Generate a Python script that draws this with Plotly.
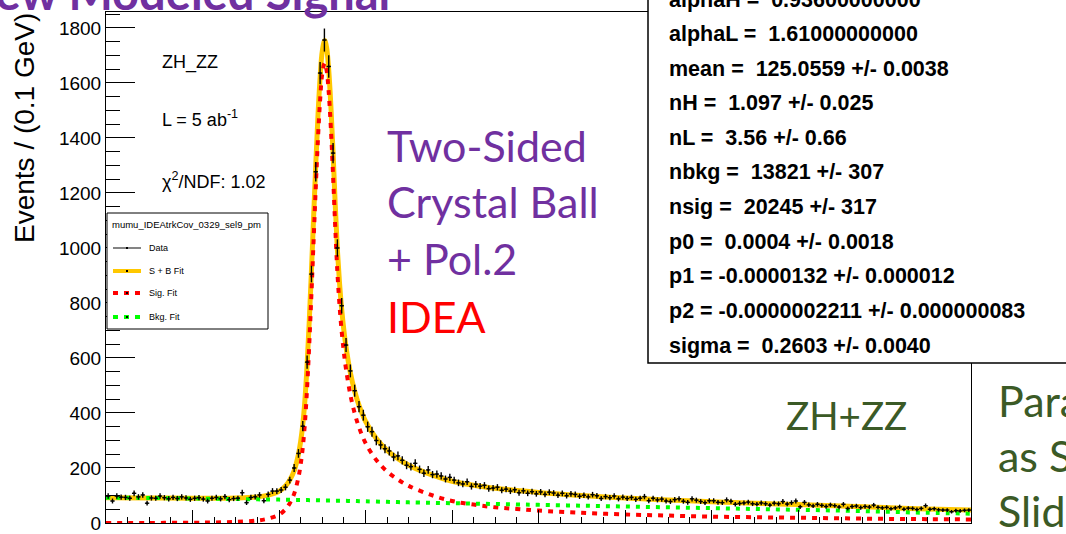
import numpy as np
import plotly.graph_objects as go

# ---------------- data (events per 0.1 GeV bin, 120 - 140 GeV) ----------------
bin_low, bin_high, bin_width = 120.0, 140.0, 0.1
data_counts = [
    98, 80, 98, 94, 93, 90, 108, 95, 102, 72,
    91, 90, 98, 92, 88, 93, 89, 95, 91, 86,
    90, 92, 87, 80, 90, 93, 88, 96, 85, 89,
    90, 110, 74, 93, 95, 102, 81, 104, 116, 116,
    120, 130, 156, 200, 253, 352, 585, 905, 1277, 1636,
    1756, 1660, 1345, 1000, 790, 647, 553, 481, 423, 392,
    350, 332, 300, 284, 270, 262, 240, 244, 228, 210,
    205, 217, 195, 181, 193, 176, 178, 171, 160, 166,
    156, 146, 142, 150, 133, 141, 134, 137, 125, 127,
    130, 119, 123, 116, 121, 110, 117, 108, 114, 106,
    113, 104, 112, 109, 101, 108, 99, 106, 104, 97,
    101, 95, 103, 99, 89, 96, 92, 98, 88, 94,
    89, 93, 86, 90, 96, 81, 90, 84, 87, 80,
    78, 85, 88, 79, 75, 88, 83, 78, 74, 81,
    81, 75, 74, 84, 79, 68, 71, 73, 76, 70,
    68, 73, 70, 65, 72, 70, 78, 69, 74, 80,
    59, 75, 66, 62, 68, 64, 60, 66, 63, 58,
    68, 53, 60, 62, 56, 60, 58, 65, 57, 55,
    57, 52, 55, 59, 50, 54, 53, 49, 53, 63,
    50, 52, 48, 47, 47, 41, 45, 44, 46, 47,
]

# ---------------- fitted curves ----------------
curve_mass = [120, 121, 122, 122.5, 123, 123.5, 123.75, 124, 124.15, 124.25,
              124.35, 124.45, 124.5, 124.55, 124.6, 124.65, 124.7, 124.75, 124.8, 124.85,
              124.9, 124.95, 125.0, 125.056, 125.1, 125.15, 125.2, 125.25, 125.3, 125.35,
              125.4, 125.45, 125.5, 125.55, 125.65, 125.75, 125.85, 126.0, 126.25, 126.5,
              126.75, 127.0, 127.5, 128.0, 128.5, 129.0, 129.5, 130.0, 131.0, 132.0,
              133.0, 134.0, 135.0, 136.0, 137.0, 138.0, 139.0, 140.0]
sig_fit = [0, 0.3, 1, 2, 4, 9, 16, 30, 50, 72,
           106, 166, 212, 275, 365, 492, 652, 834, 1028, 1220,
           1395, 1536, 1633, 1672, 1647, 1565, 1433, 1265, 1078, 912,
           790, 695, 620, 559, 466, 399, 348, 291, 229, 187,
           158, 135, 103, 80, 67, 57, 51, 45, 37, 31,
           27, 23, 21, 19, 17, 15, 14, 13]
bkg_fit = [92, 91, 89, 88, 87, 86, 85.5, 85, 84.5, 84.5,
           84, 84, 84, 83.5, 83.5, 83.5, 83, 83, 83, 82.5,
           82.5, 82.5, 82, 82, 82, 81.5, 81.5, 81.5, 81, 81,
           81, 81, 80.5, 80.5, 80, 80, 79.5, 79, 78, 77,
           76, 75, 73.5, 72, 70.5, 69, 67.5, 66, 63, 60,
           57, 54, 51, 48, 45, 41, 37, 34]
total_fit = [92, 91.3, 90, 90, 91, 95, 101.5, 115, 134.5, 156.5,
             190, 250, 296, 358.5, 448.5, 575.5, 735, 917, 1111, 1302.5,
             1477.5, 1618.5, 1715, 1754, 1729, 1646.5, 1514.5, 1346.5, 1159, 993,
             871, 776, 700.5, 639.5, 546, 479, 427.5, 370, 307, 264,
             234, 210, 176.5, 152, 137.5, 126, 118.5, 111, 100, 91,
             84, 77, 72, 67, 62, 56, 51, 47]

param_lines = [
    "alphaH =  0.93600000000",
    "alphaL =  1.61000000000",
    "mean =  125.0559 +/- 0.0038",
    "nH =  1.097 +/- 0.025",
    "nL =  3.56 +/- 0.66",
    "nbkg =  13821 +/- 307",
    "nsig =  20245 +/- 317",
    "p0 =  0.0004 +/- 0.0018",
    "p1 = -0.0000132 +/- 0.000012",
    "p2 = -0.0000002211 +/- 0.000000083",
    "sigma =  0.2603 +/- 0.0040",
]

# ---------------- geometry helpers (pixel -> paper) ----------------
W, H = 1066, 534
L, R, T, B = 106, 971, 12, 523


def px(x):
    return (x - L) / (R - L)


def py(y):
    return (B - y) / (B - T)


centers = bin_low + bin_width * (np.arange(len(data_counts)) + 0.5)
counts = np.array(data_counts, dtype=float)

ROOTFONT = "Liberation Sans, Arial, Helvetica, sans-serif"
SLIDEFONT = "Lato, Open Sans, sans-serif"
YELLOW = "#FFC800"

fig = go.Figure()
fig.add_trace(go.Scatter(x=curve_mass, y=total_fit, mode="lines", line_shape="spline",
                         line=dict(color=YELLOW, width=5), name="S + B Fit", hoverinfo="skip"))
fig.add_trace(go.Scatter(x=curve_mass, y=sig_fit, mode="lines", line_shape="spline",
                         line=dict(color="#FF0000", width=4, dash="5px,6px"), name="Sig. Fit"))
fig.add_trace(go.Scatter(x=curve_mass, y=bkg_fit, mode="lines", line_shape="spline",
                         line=dict(color="#00FF00", width=4, dash="4px,6px"), name="Bkg. Fit"))
fig.add_trace(go.Scatter(x=centers, y=counts, mode="markers", name="Data",
                         marker=dict(color="black", size=2),
                         error_y=dict(type="data", array=np.sqrt(counts), color="black",
                                      thickness=1.4, width=0),
                         error_x=dict(type="constant", value=bin_width / 2, color="black",
                                      thickness=1.4, width=0)))

shapes = []
annotations = []

# ROOT legend box
shapes.append(dict(type="rect", xref="paper", yref="paper", x0=px(107), x1=px(268),
                   y0=py(329), y1=py(213), line=dict(color="black", width=1),
                   fillcolor="white", layer="above"))
annotations.append(dict(xref="paper", yref="paper", x=px(110), y=py(224), xanchor="left",
                        yanchor="middle", text="mumu_IDEAtrkCov_0329_sel9_pm",
                        showarrow=False, font=dict(family=ROOTFONT, size=9.5, color="black")))
leg_entries = [("Data", 248), ("S + B Fit", 271), ("Sig. Fit", 293), ("Bkg. Fit", 317)]
for label, yy in leg_entries:
    annotations.append(dict(xref="paper", yref="paper", x=px(147), y=py(yy), xanchor="left",
                            yanchor="middle", text=label, showarrow=False,
                            font=dict(family=ROOTFONT, size=9, color="black")))
shapes.append(dict(type="line", xref="paper", yref="paper", x0=px(113), x1=px(141),
                   y0=py(248), y1=py(248), line=dict(color="#333333", width=1.2), layer="above"))
shapes.append(dict(type="line", xref="paper", yref="paper", x0=px(113), x1=px(141),
                   y0=py(271), y1=py(271), line=dict(color=YELLOW, width=4), layer="above"))
shapes.append(dict(type="line", xref="paper", yref="paper", x0=px(113), x1=px(141),
                   y0=py(293), y1=py(293), line=dict(color="#FF0000", width=4, dash="5px,6px"),
                   layer="above"))
shapes.append(dict(type="line", xref="paper", yref="paper", x0=px(113), x1=px(141),
                   y0=py(317), y1=py(317), line=dict(color="#00FF00", width=4, dash="5px,6px"),
                   layer="above"))
for yy in [248, 271, 293, 317]:
    shapes.append(dict(type="rect", xref="paper", yref="paper", x0=px(126), x1=px(128),
                       y0=py(yy + 1), y1=py(yy - 1), line=dict(width=0), fillcolor="black",
                       layer="above"))

# parameter box
shapes.append(dict(type="rect", xref="paper", yref="paper", x0=px(648), x1=px(1080),
                   y0=py(363), y1=py(-20), line=dict(color="black", width=1.5),
                   fillcolor="white", layer="above"))
for i, txt in enumerate(param_lines):
    annotations.append(dict(xref="paper", yref="paper", x=px(667), y=py(-0.5 + 34.6 * i),
                            xanchor="left", yanchor="middle", text="<b>%s</b>" % txt,
                            showarrow=False, font=dict(family=ROOTFONT, size=21.5, color="black")))

# ROOT text labels
annotations += [
    dict(xref="paper", yref="paper", x=px(160), y=py(62), xanchor="left", yanchor="middle",
         text="ZH_ZZ", showarrow=False, font=dict(family=ROOTFONT, size=18, color="black")),
    dict(xref="paper", yref="paper", x=px(160), y=py(118), xanchor="left", yanchor="middle",
         text="L = 5 ab<sup>-1</sup>", showarrow=False,
         font=dict(family=ROOTFONT, size=18, color="black")),
    dict(xref="paper", yref="paper", x=px(160), y=py(180), xanchor="left", yanchor="middle",
         text="χ<sup>2</sup>/NDF: 1.02", showarrow=False,
         font=dict(family=ROOTFONT, size=18, color="black")),
    dict(xref="paper", yref="paper", x=px(24), y=py(128), xanchor="center", yanchor="middle",
         text="Events / (0.1 GeV)", textangle=-90, showarrow=False,
         font=dict(family=ROOTFONT, size=28, color="black")),
]

# slide overlay texts
PURPLE = "#7030A0"
DKGREEN = "#3B5A26"
for txt, yy, col in [("Two-Sided", 145, PURPLE), ("Crystal Ball", 201, PURPLE),
                     ("+ Pol.2", 258, PURPLE), ("IDEA", 316, "#FF0000")]:
    annotations.append(dict(xref="paper", yref="paper", x=px(385), y=py(yy), xanchor="left",
                            yanchor="middle", text=txt, showarrow=False,
                            font=dict(family=SLIDEFONT, size=43, color=col)))
annotations.append(dict(xref="paper", yref="paper", x=px(784), y=py(415), xanchor="left",
                        yanchor="middle", text="ZH+ZZ", showarrow=False,
                        font=dict(family=SLIDEFONT, size=38.5, color=DKGREEN)))
for txt, yy in [("Parameters", 400), ("as Same", 455), ("Slide", 510)]:
    annotations.append(dict(xref="paper", yref="paper", x=px(996), y=py(yy), xanchor="left",
                            yanchor="middle", text=txt, showarrow=False,
                            font=dict(family=SLIDEFONT, size=43, color=DKGREEN)))
annotations.append(dict(xref="paper", yref="paper", x=px(392), y=py(-8), xanchor="right",
                        yanchor="middle", text="<b>New Modeled Signal</b>", showarrow=False,
                        font=dict(family=SLIDEFONT, size=47, color=PURPLE)))

fig.update_layout(
    width=W, height=H,
    margin=dict(l=L, r=W - R, t=T, b=H - B, pad=0, autoexpand=False),
    paper_bgcolor="white", plot_bgcolor="white",
    showlegend=False,
    shapes=shapes, annotations=annotations,
    xaxis=dict(range=[bin_low, bin_high], tick0=120, dtick=2, ticks="inside", ticklen=13,
               tickcolor="black", tickwidth=1, showline=True, linecolor="black", linewidth=1,
               mirror=True, showgrid=False, zeroline=False, automargin=False,
               tickfont=dict(family=ROOTFONT, size=19, color="black"),
               minor=dict(dtick=0.5, ticks="inside", ticklen=6, tickcolor="black", showgrid=False)),
    yaxis=dict(range=[0, 1858], tick0=0, dtick=200, ticks="inside", ticklen=29,
               tickcolor="black", tickwidth=1, showline=True, linecolor="black", linewidth=1,
               mirror=True, showgrid=False, zeroline=False, automargin=False,
               tickfont=dict(family=ROOTFONT, size=19, color="black"),
               minor=dict(dtick=50, ticks="inside", ticklen=14, tickcolor="black", showgrid=False)),
)

fig.write_html("out.html")
